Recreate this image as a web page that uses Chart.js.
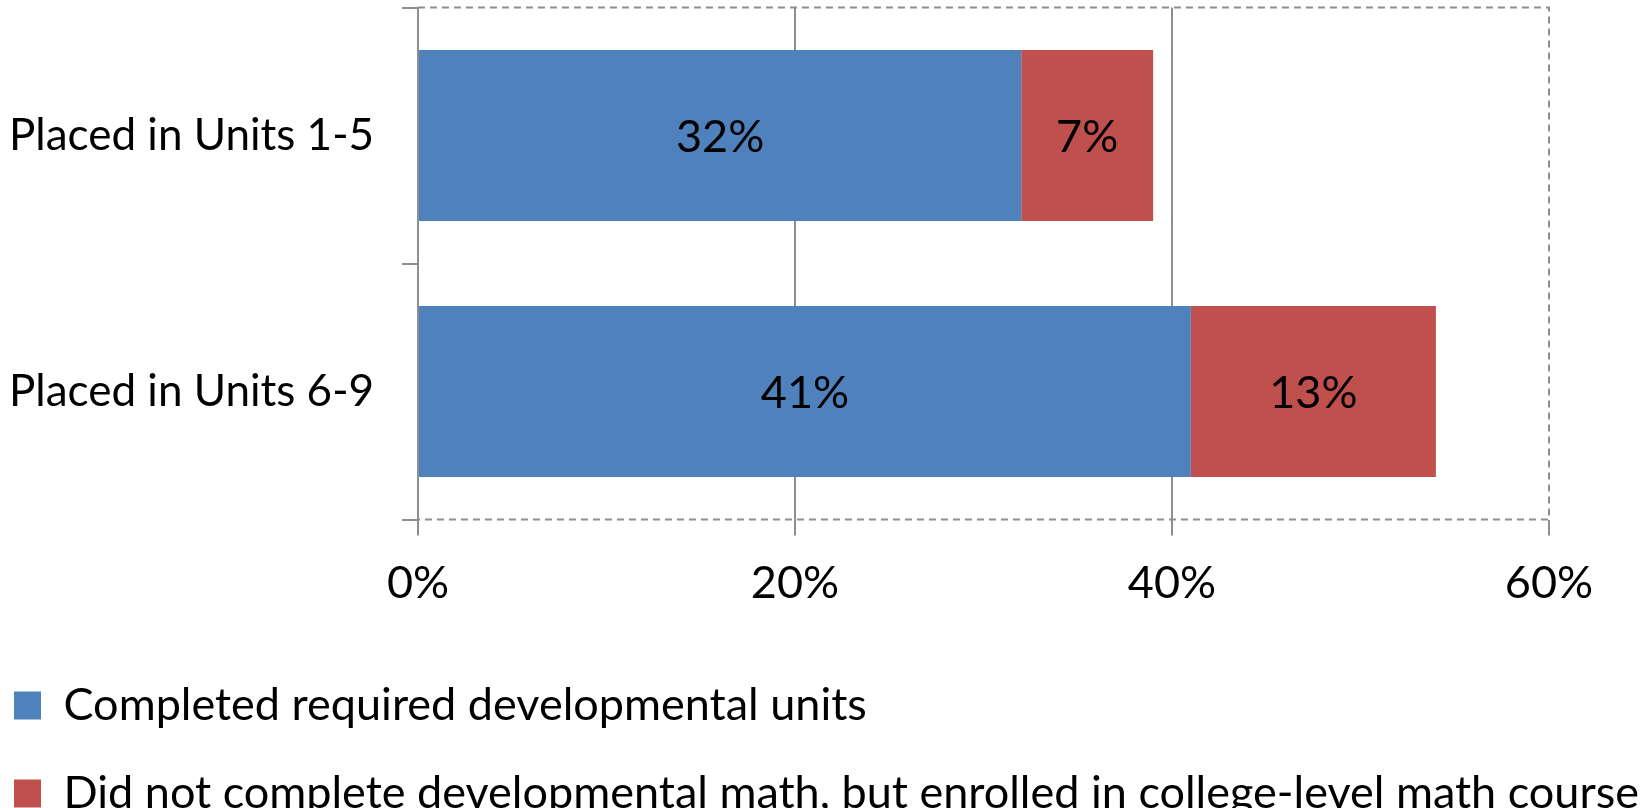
<!DOCTYPE html>
<html>
<head>
<meta charset="utf-8">
<script src="https://cdn.jsdelivr.net/npm/chart.js@4.4.0/dist/chart.umd.min.js"></script>
<style>
    html, body { margin: 0; padding: 0; background: #fff; overflow: hidden; }
    #wrap { position: relative; width: 1642px; height: 826px; }
</style>
</head>
<body>
<div id="wrap"><canvas id="placementChart"></canvas></div>
<script>
const categories = ["Placed in Units 1-5", "Placed in Units 6-9"];
const completedDev = [32, 41];
const collegeLevel = [7, 13];
const seriesNames = [
    "Completed required developmental units",
    "Did not complete developmental math, but enrolled in college-level math course",
];
const xMin = 0;
const xMax = 60;
const xStep = 20;

const FONT = "Lato";
const GRID = "#8e8e8e";

// percent labels in the middle of each bar segment
const barLabels = {
    id: "barLabels",
    afterDatasetsDraw(chart) {
        const ctx = chart.ctx;
        ctx.save();
        ctx.font = `45px ${FONT}`;
        ctx.fillStyle = "#000";
        ctx.textAlign = "center";
        ctx.textBaseline = "middle";
        chart.data.datasets.forEach((ds, i) => {
            chart.getDatasetMeta(i).data.forEach((bar, j) => {
                ctx.fillText(ds.data[j] + "%", (bar.x + bar.base) / 2, bar.y + 2);
            });
        });
        ctx.restore();
    },
};

// dashed frame on top, right and bottom of the plot area
const dashedFrame = {
    id: "dashedFrame",
    beforeDatasetsDraw(chart) {
        const { ctx, chartArea: a } = chart;
        ctx.save();
        ctx.strokeStyle = GRID;
        ctx.lineWidth = 2;
        ctx.setLineDash([7, 5]);
        ctx.beginPath();
        ctx.moveTo(a.left, a.top);
        ctx.lineTo(a.right, a.top);
        ctx.lineTo(a.right, a.bottom);
        ctx.lineTo(a.left, a.bottom);
        ctx.stroke();
        ctx.restore();
    },
};

const ctx = document.getElementById("placementChart").getContext("2d");

new Chart(ctx, {
    type: "bar",
    data: {
        labels: categories,
        datasets: [
            {
                label: seriesNames[0],
                data: completedDev,
                backgroundColor: "#4f81bd",
                borderWidth: 0,
                categoryPercentage: 1,
                barPercentage: 0.667,
            },
            {
                label: seriesNames[1],
                data: collegeLevel,
                backgroundColor: "#c0504d",
                borderWidth: 0,
                categoryPercentage: 1,
                barPercentage: 0.667,
            },
        ],
    },
    options: {
        indexAxis: "y",
        responsive: true,
        maintainAspectRatio: false,
        animation: false,
        layout: {
            padding: { left: -29, right: 0, top: 7.5, bottom: 0 },
        },
        scales: {
            x: {
                stacked: true,
                min: xMin,
                max: xMax,
                afterFit: (scale) => {
                    scale.height = 120.5;
                    scale.paddingRight = 93;
                },
                border: { display: false },
                grid: {
                    color: (c) => (c.tick && c.tick.value === xMax ? "rgba(0,0,0,0)" : GRID),
                    tickColor: GRID,
                    lineWidth: 2,
                    tickLength: 16,
                },
                ticks: {
                    stepSize: xStep,
                    padding: 21,
                    color: "#000",
                    font: { family: FONT, size: 45 },
                    callback: (v) => v + "%",
                },
            },
            y: {
                stacked: true,
                afterFit: (scale) => {
                    scale.width = 447;
                    scale.paddingTop = 0;
                    scale.paddingBottom = 0;
                },
                border: { display: true, color: GRID, width: 2 },
                grid: {
                    drawOnChartArea: false,
                    color: GRID,
                    lineWidth: 2,
                    tickLength: 16,
                },
                ticks: {
                    padding: 28,
                    color: "#000",
                    font: { family: FONT, size: 44 },
                },
            },
        },
        plugins: {
            legend: {
                position: "bottom",
                align: "start",
                labels: {
                    color: "#000",
                    font: { family: FONT, size: 45 },
                    boxWidth: 27,
                    boxHeight: 28,
                    padding: 43,
                },
            },
            tooltip: { enabled: false },
        },
    },
    plugins: [dashedFrame, barLabels],
});
</script>
</body>
</html>
